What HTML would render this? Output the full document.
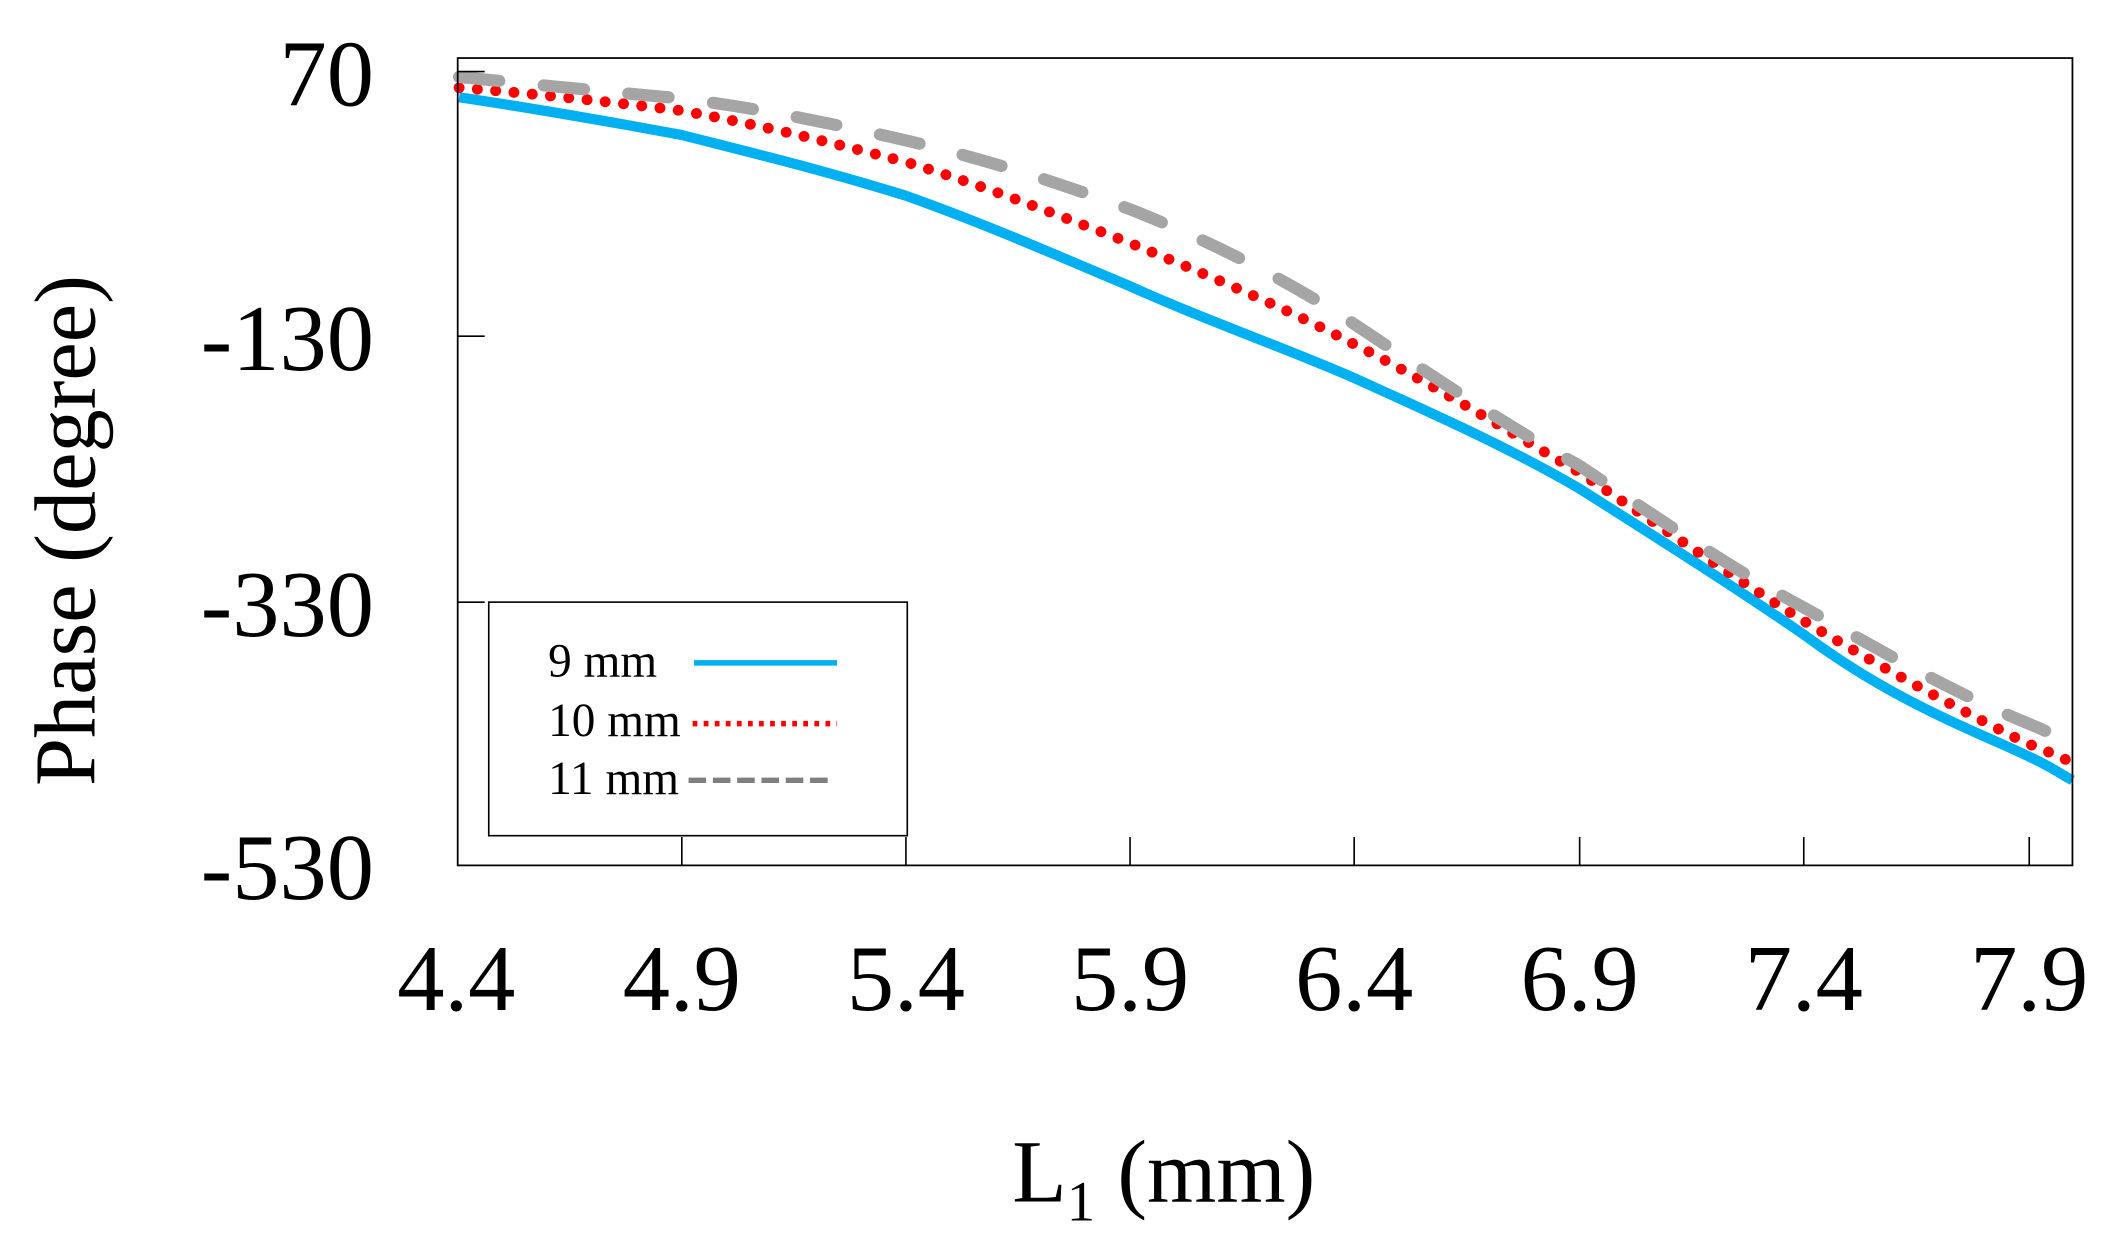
<!DOCTYPE html>
<html><head><meta charset="utf-8"><style>html,body{margin:0;padding:0;background:#fff;}svg{display:block}</style></head>
<body>
<svg width="2117" height="1248" viewBox="0 0 1568 924.4" preserveAspectRatio="none" xmlns="http://www.w3.org/2000/svg" font-family="'Liberation Serif', serif">
<rect x="0" y="0" width="1568" height="924.4" fill="#fff"/>
<!-- curves -->
<path d="M340,72 C380,78 440,88 505,100 C560,114 610,126 671,145 C730,166 780,188 837,212 C890,236 950,257 1003,280 C1060,306 1115,330 1170,362 C1230,400 1285,435 1336,470 C1390,510 1435,530 1480,550 S1520,570 1535,578" fill="none" stroke="#00b0f0" stroke-width="7.5"/>
<path d="M340,65 C380,68 440,74 505,82 C560,92 610,104 671,120 C730,138 780,158 837,180 C890,202 950,227 1003,255 C1060,284 1115,318 1170,350 C1230,390 1280,425 1336,460 C1390,492 1440,520 1500,550 C1515,556 1525,560 1535,565" fill="none" stroke="#ff0000" stroke-width="8" stroke-linecap="round" stroke-dasharray="0.1 13.5"/>
<path d="M340,57 C380,61 440,67 505,73 C560,80 610,90 671,104 C730,118 780,134 837,155 C890,176 950,205 1003,240 C1060,278 1115,315 1170,345 C1230,385 1280,420 1336,450 C1390,480 1440,510 1500,535 C1515,541 1525,546 1535,552" fill="none" stroke="#a5a5a5" stroke-width="9" stroke-linecap="round" stroke-dasharray="30 33"/>
<!-- axes box -->
<rect x="339" y="43" width="1196" height="598" fill="none" stroke="#000" stroke-width="1.3"/>
<g stroke="#000" stroke-width="1.2">
<line x1="339" y1="53" x2="359" y2="53"/>
<line x1="339" y1="249" x2="359" y2="249"/>
<line x1="339" y1="446" x2="359" y2="446"/>
<line x1="505" y1="641" x2="505" y2="620"/><line x1="671" y1="641" x2="671" y2="620"/>
<line x1="837" y1="641" x2="837" y2="620"/><line x1="1003" y1="641" x2="1003" y2="620"/>
<line x1="1170" y1="641" x2="1170" y2="620"/><line x1="1336" y1="641" x2="1336" y2="620"/>
<line x1="1503" y1="641" x2="1503" y2="620"/>
</g>
<!-- y tick labels -->
<g font-size="70" text-anchor="end" fill="#000">
<text x="277" y="78">70</text>
<text x="277" y="274">-130</text>
<text x="277" y="471">-330</text>
<text x="277" y="666">-530</text>
</g>
<g font-size="70" text-anchor="middle" fill="#000">
<text x="338" y="748">4.4</text><text x="505" y="748">4.9</text><text x="671" y="748">5.4</text>
<text x="837" y="748">5.9</text><text x="1003" y="748">6.4</text><text x="1170" y="748">6.9</text>
<text x="1336" y="748">7.4</text><text x="1503" y="748">7.9</text>
</g>
<text transform="translate(70,393) rotate(-90)" font-size="64" text-anchor="middle" fill="#000">Phase (degree)</text>
<text x="862" y="890" font-size="66" text-anchor="middle" fill="#000">L<tspan font-size="42" dy="14">1</tspan><tspan dy="-14"> (mm)</tspan></text>
<!-- legend -->
<rect x="362" y="446" width="310" height="173" fill="#fff" stroke="#000" stroke-width="1.2"/>
<g font-size="35" fill="#000">
<text x="406" y="501">9 mm</text>
<text x="406" y="545">10 mm</text>
<text x="406" y="588">11 mm</text>
</g>
<line x1="514" y1="491" x2="620" y2="491" stroke="#00b0f0" stroke-width="4"/>
<line x1="513" y1="536" x2="620" y2="536" stroke="#ff0000" stroke-width="4" stroke-dasharray="3.5 4.7"/>
<line x1="510" y1="578" x2="617" y2="578" stroke="#7f7f7f" stroke-width="4" stroke-dasharray="13 5"/>
</svg>
</body></html>
